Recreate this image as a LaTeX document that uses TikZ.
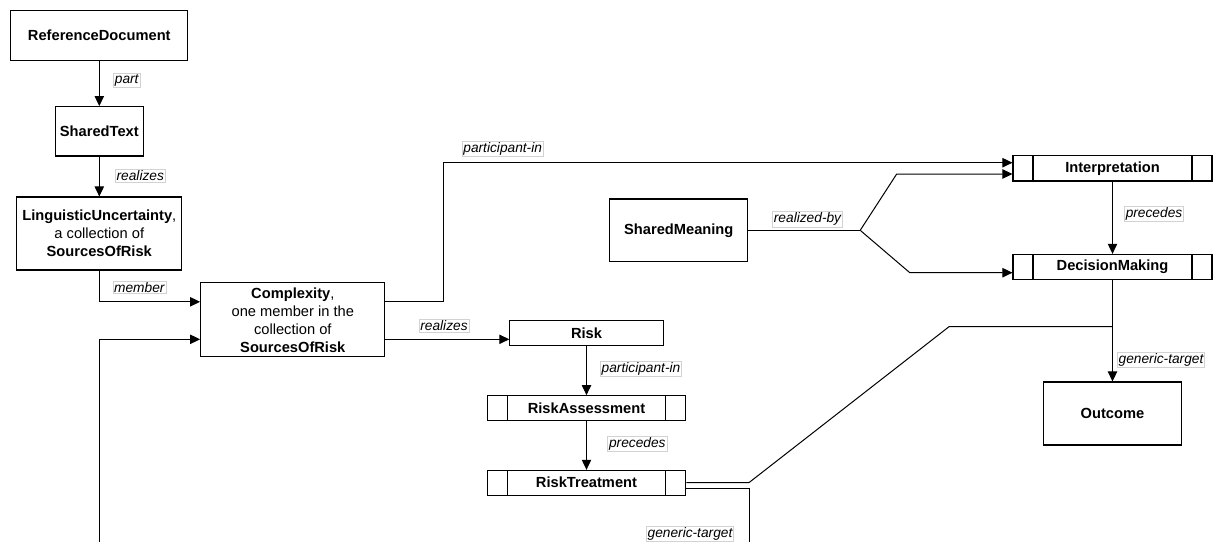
\documentclass[tikz,border=0pt]{standalone}
\usepackage{fontspec}
\setmainfont{Liberation Sans}
\usetikzlibrary{arrows.meta,calc}

\tikzset{
  concept/.style={draw, line width=0.8pt, inner sep=0pt, align=center,
    font=\fontsize{11}{13.5}\selectfont},
  term/.style={concept, font=\fontsize{11}{13.5}\selectfont\bfseries},
  process/.style={term, path picture={
      \draw[line width=0.8pt] ([xshift=15pt]path picture bounding box.north west)
        -- ([xshift=15pt]path picture bounding box.south west);
      \draw[line width=0.8pt] ([xshift=-15pt]path picture bounding box.north east)
        -- ([xshift=-15pt]path picture bounding box.south east);}},
  link/.style={line width=0.75pt},
  rel/.style={link, -{Triangle[length=7.5pt,width=7pt]}},
  lbl/.style={draw=gray!35, fill=white, line width=0.4pt, inner sep=1pt,
    font=\fontsize{10.3}{12}\selectfont\itshape}
}

\begin{document}
\begin{tikzpicture}[x=0.75pt,y=-0.75pt]
	\useasboundingbox (0,0) rectangle (1213,542);
		% left column
		\node[term, minimum width=132.75pt, minimum height=37.2pt] (refdoc) at (99.3,35.5) {ReferenceDocument};
		\node[term, minimum width=65.7pt, minimum height=37pt] (sharedtext) at (99.3,131.3) {SharedText};
		\node[concept, minimum width=123.75pt, minimum height=54.75pt] (linguistic) at (99.3,233.5)
			{\textbf{LinguisticUncertainty},\\a collection of\\\textbf{SourcesOfRisk}};
		\node[concept, minimum width=138.2pt, minimum height=55.7pt] (complexity) at (292.8,319.8)
			{\textbf{Complexity},\\one member in the\\collection of\\\textbf{SourcesOfRisk}};
		% risk chain
		\node[term, minimum width=115pt, minimum height=18.5pt] (risk) at (586.5,333) {Risk};
		\node[process, minimum width=149pt, minimum height=18.5pt] (riskassess) at (586.5,408) {RiskAssessment};
		\node[process, minimum width=149pt, minimum height=18.5pt] (risktreat) at (586.5,482.7) {RiskTreatment};
		% right part
		\node[term, minimum width=103.3pt, minimum height=47pt] (sharedmeaning) at (678.8,230.3) {SharedMeaning};
		\node[process, minimum width=149.25pt, minimum height=19pt] (interp) at (1112.5,168.3) {Interpretation};
		\node[process, minimum width=149.25pt, minimum height=18.5pt] (decision) at (1112.5,266.7) {DecisionMaking};
		\node[term, minimum width=103.5pt, minimum height=47.25pt] (outcome) at (1112.5,413.5) {Outcome};

		\coordinate (leftfoot) at (99.3,542);
		\coordinate (treatfoot) at (749,542);
		\coordinate (merge) at (decision.south |- 949,326.7);
		\coordinate (fork) at ($(sharedmeaning.east)+(112,0)$);

		\draw[rel] (refdoc) -- (sharedtext);
		\draw[rel] (sharedtext) -- (linguistic);
		\draw[rel] (linguistic.south) |- ($(complexity.west)+(0,-18)$);
		\draw[rel] (leftfoot) |- ($(complexity.west)+(0,19.5)$);
		\draw[rel] ($(complexity.east)+(0,-18)$) -- ++(57.7,0) |- ($(interp.west)+(0,-5.6)$);
		\draw[rel] ($(complexity.east)+(0,19.5)$) -- ($(risk.west)+(0,6.3)$);
		\draw[rel] (risk) -- (riskassess);
		\draw[rel] (riskassess) -- (risktreat);
		\draw[link] (risktreat.east) -- ++(62.5,0) -- (949,326.7) -- (merge);
		\draw[link] ($(risktreat.east)+(0,6)$) -| (treatfoot);
		\draw[link] (sharedmeaning.east) -- (fork);
		\draw[rel] (fork) -- (896.7,174) -- ($(interp.west)+(0,5.7)$);
		\draw[rel] (fork) -- (909.8,272.7) -- ($(decision.west)+(0,6)$);
		\draw[rel] (interp) -- (decision);
		\draw[rel] (decision) -- (outcome);

		% relation labels
		\node[lbl] (lpart) at (126.7,80) {part};
		\node[lbl] (lrealizes) at (140.3,175.7) {realizes};
		\node[lbl] (lmember) at (139.3,287.3) {member};
		\node[lbl] (lparticipant) at (502.7,149) {participant-in};
		\node[lbl] (lriskrealizes) at (444,326) {realizes};
		\node[lbl] (lriskparticipant) at (641,369) {participant-in};
		\node[lbl] (lriskprecedes) at (637.3,443.7) {precedes};
		\node[lbl] (ltarget) at (690,534) {generic-target};
		\node[lbl] (lrealizedby) at (807.5,219.3) {realized-by};
		\node[lbl] (lprecedes) at (1154,214) {precedes};
		\node[lbl] (loutcome) at (1161,360) {generic-target};
\end{tikzpicture}
\end{document}
